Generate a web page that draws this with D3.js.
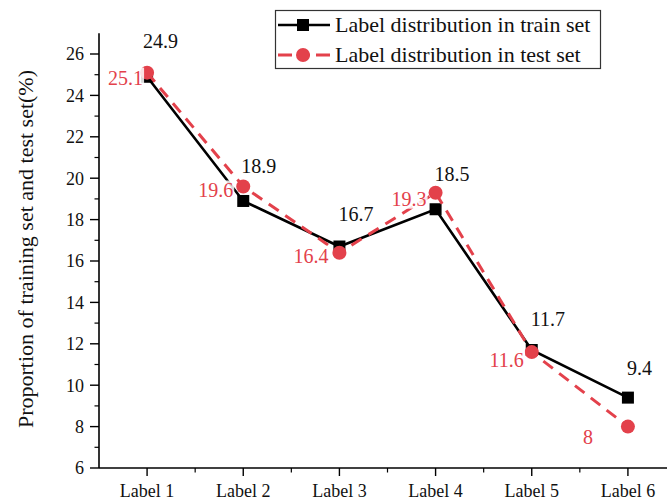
<!DOCTYPE html>
<html>
<head>
<meta charset="utf-8">
<script src="https://cdn.jsdelivr.net/npm/d3@7/dist/d3.min.js"></script>
<style>
  html, body { margin: 0; padding: 0; background: #fff; }
  svg { display: block; }
  text { font-family: "Liberation Serif", "Times New Roman", "DejaVu Serif", serif; }
</style>
</head>
<body>
<svg id="chart" width="667" height="502"></svg>
<script>
// ---- data ----
const categories = ["Label 1", "Label 2", "Label 3", "Label 4", "Label 5", "Label 6"];
const trainValues = [24.9, 18.9, 16.7, 18.5, 11.7, 9.4];
const testValues  = [25.1, 19.6, 16.4, 19.3, 11.6, 8];
const yMajorTicks = [6, 8, 10, 12, 14, 16, 18, 20, 22, 24, 26];
const seriesNames = ["Label distribution in train set", "Label distribution in test set"];
const yTitle = "Proportion of training set and test set(%)";

// label nudges (style, not data)
const trainLabelOffsets = [[-4, -29], [-2, -28], [-1, -26], [-1, -28], [-1, -24], [-1, -23]];
const testLabelOffsets  = [[-4, 12], [-10, 11], [-11, 10], [-9, 13], [-8, 15], [-35, 17]];

const RED = "#e3414b";
const svg = d3.select("#chart");

const x = d3.scaleLinear().domain([0.5, 6.5]).range([99, 676]);
const y = d3.scaleLinear().domain([6, 27]).range([468, 33.3]);
const xi = i => x(i + 1);

// ---- axes ----
const axisG = svg.append("g");
axisG.append("line").attr("x1", x(0.5)).attr("x2", x(0.5)).attr("y1", y(27)).attr("y2", y(6))
  .attr("stroke", "#000").attr("stroke-width", 1.6);
axisG.append("line").attr("x1", x(0.5)).attr("x2", 667).attr("y1", y(6)).attr("y2", y(6))
  .attr("stroke", "#000").attr("stroke-width", 1.6);

yMajorTicks.forEach(v => {
  axisG.append("line").attr("x1", x(0.5) - 9).attr("x2", x(0.5)).attr("y1", y(v)).attr("y2", y(v))
    .attr("stroke", "#000").attr("stroke-width", 1.4);
  axisG.append("text").attr("x", x(0.5) - 15).attr("y", y(v)).attr("dy", "0.35em")
    .attr("text-anchor", "end").attr("font-size", 18).attr("fill", "#111").text(v);
});
yMajorTicks.slice(0, -1).forEach(v => {
  axisG.append("line").attr("x1", x(0.5) - 4.5).attr("x2", x(0.5)).attr("y1", y(v + 1)).attr("y2", y(v + 1))
    .attr("stroke", "#000").attr("stroke-width", 1.2);
});

categories.forEach((c, i) => {
  axisG.append("line").attr("x1", xi(i)).attr("x2", xi(i)).attr("y1", y(6)).attr("y2", y(6) + 8)
    .attr("stroke", "#000").attr("stroke-width", 1.4);
  axisG.append("text").attr("x", xi(i)).attr("y", 497)
    .attr("text-anchor", "middle").attr("font-size", 18).attr("fill", "#111").text(c);
  if (i < categories.length - 1) {
    axisG.append("line").attr("x1", x(i + 1.5)).attr("x2", x(i + 1.5)).attr("y1", y(6)).attr("y2", y(6) + 4.5)
      .attr("stroke", "#000").attr("stroke-width", 1.2);
  }
});

svg.append("text")
  .attr("transform", "translate(33, 249) rotate(-90)")
  .attr("text-anchor", "middle").attr("font-size", 22).attr("fill", "#111").text(yTitle);

// ---- lines ----
const line = d3.line().x((d, i) => xi(i)).y(d => y(d));

svg.append("path").datum(trainValues).attr("d", line)
  .attr("fill", "none").attr("stroke", "#000").attr("stroke-width", 2.6);
svg.selectAll(".sq").data(trainValues).enter().append("rect")
  .attr("x", (d, i) => xi(i) - 6).attr("y", d => y(d) - 6)
  .attr("width", 12).attr("height", 12).attr("fill", "#000");

svg.append("path").datum(testValues).attr("d", line)
  .attr("fill", "none").attr("stroke", RED).attr("stroke-width", 3)
  .attr("stroke-dasharray", "12,8");
svg.selectAll(".dot").data(testValues).enter().append("circle")
  .attr("cx", (d, i) => xi(i)).attr("cy", d => y(d)).attr("r", 7).attr("fill", RED);

// ---- value labels ----
trainValues.forEach((v, i) => {
  svg.append("text").attr("x", xi(i) + trainLabelOffsets[i][0]).attr("y", y(v) + trainLabelOffsets[i][1])
    .attr("text-anchor", "start").attr("font-size", 20).attr("fill", "#111").text(v);
});
testValues.forEach((v, i) => {
  const g = svg.append("g");
  const t = g.append("text").attr("x", xi(i) + testLabelOffsets[i][0]).attr("y", y(v) + testLabelOffsets[i][1])
    .attr("text-anchor", "end").attr("font-size", 20).attr("fill", RED).text(v);
  const bb = t.node().getBBox();
  g.insert("rect", "text").attr("x", bb.x - 1).attr("y", bb.y + 1).attr("width", bb.width + 2).attr("height", bb.height - 2)
    .attr("fill", "#fff").attr("opacity", 0.85);
});

// ---- legend ----
const lg = svg.append("g");
lg.append("rect").attr("x", 275.5).attr("y", 10.5).attr("width", 325).attr("height", 58)
  .attr("fill", "#fff").attr("stroke", "#333").attr("stroke-width", 1.2);
lg.append("line").attr("x1", 278).attr("x2", 330).attr("y1", 25).attr("y2", 25)
  .attr("stroke", "#000").attr("stroke-width", 2.6);
lg.append("rect").attr("x", 297).attr("y", 19).attr("width", 12).attr("height", 12).attr("fill", "#000");
lg.append("line").attr("x1", 278).attr("x2", 330).attr("y1", 55).attr("y2", 55)
  .attr("stroke", RED).attr("stroke-width", 3).attr("stroke-dasharray", "14,6,12,6,14");
lg.append("circle").attr("cx", 303).attr("cy", 55).attr("r", 7).attr("fill", RED);
seriesNames.forEach((n, i) => {
  lg.append("text").attr("x", 335).attr("y", 25 + i * 30).attr("dy", "0.33em")
    .attr("font-size", 22).attr("fill", "#111").text(n);
});
</script>
</body>
</html>
